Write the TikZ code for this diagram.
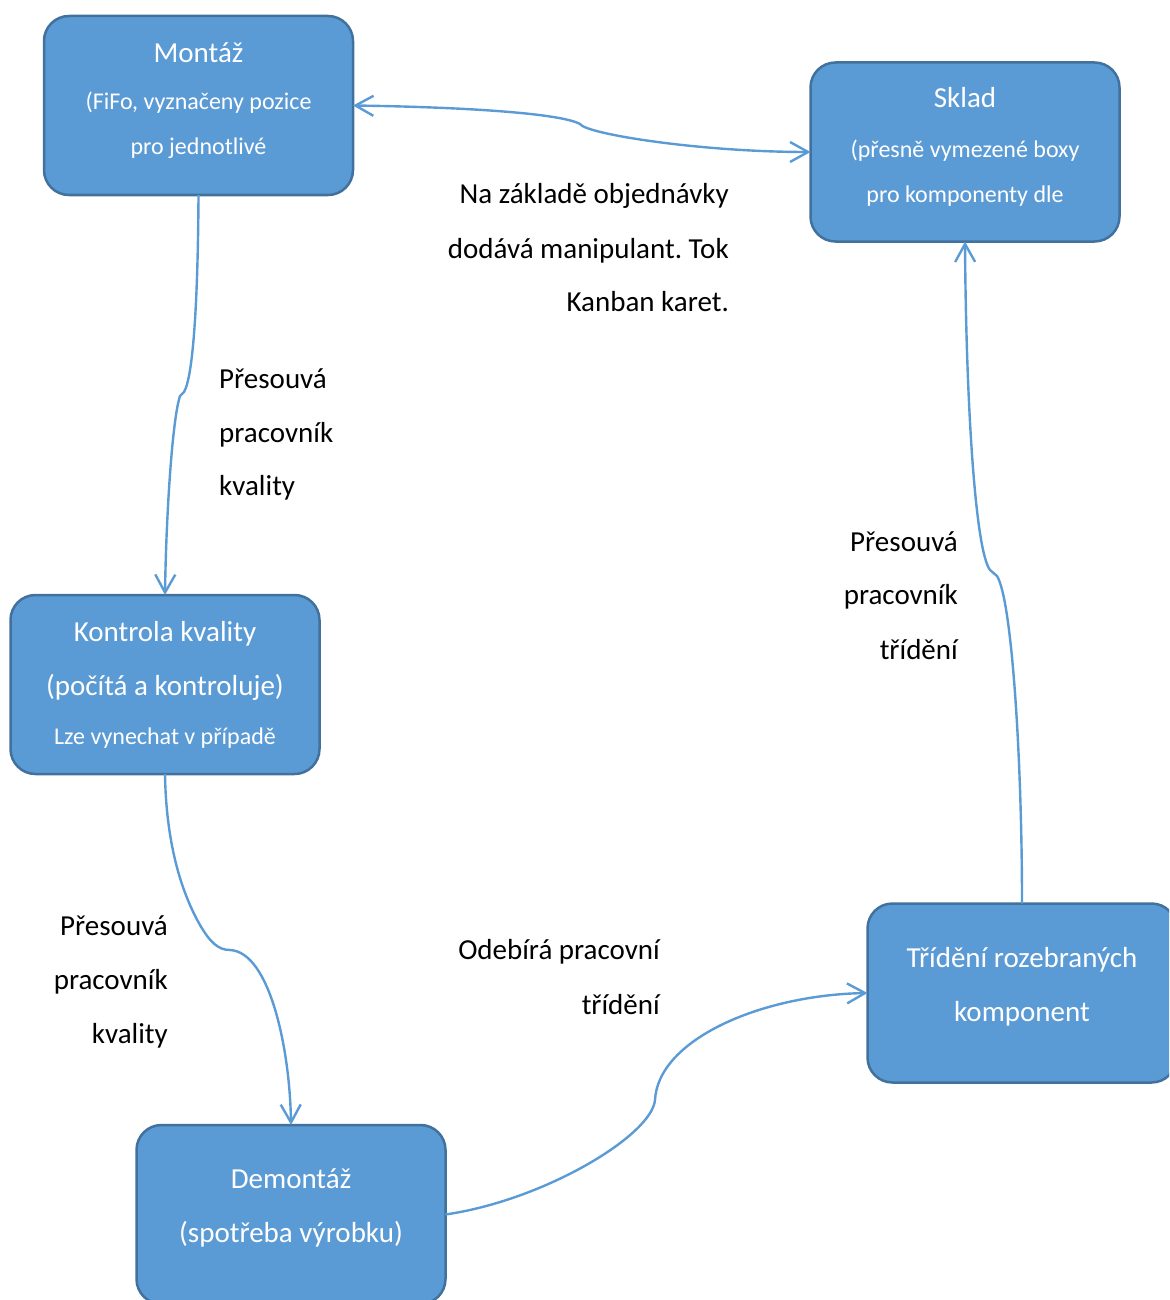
\documentclass[tikz,border=0pt]{standalone}
\usepackage{fontspec}
\setmainfont{Carlito}
\usetikzlibrary{arrows.meta}
\definecolor{boxfill}{HTML}{5B9BD5}
\definecolor{boxborder}{HTML}{41719C}
\definecolor{arrowblue}{HTML}{5B9BD5}
\frenchspacing
\tikzset{
  box/.style={draw=boxborder, fill=boxfill, line width=2.5pt, rounded corners=25pt,
    minimum width=309pt, minimum height=179pt, inner sep=0pt, outer sep=0pt},
  ttl/.style={text=white, font=\fontsize{29}{35}\selectfont, anchor=base, inner sep=0pt},
  sub/.style={text=white, font=\fontsize{24}{29}\selectfont, anchor=base, inner sep=0pt},
  lblr/.style={text=black, font=\fontsize{29}{35}\selectfont, anchor=base east, inner sep=0pt},
  lbll/.style={text=black, font=\fontsize{29}{35}\selectfont, anchor=base west, inner sep=0pt},
  barb/.tip={Straight Barb[length=18pt,width=20pt]},
  conn/.style={draw=arrowblue, line width=2.4pt, -barb},
}
\begin{document}
\begin{tikzpicture}[x=1pt,y=-1pt]
\useasboundingbox (0,0) rectangle (1169,1300);
\clip (0,0) rectangle (1169,1300);
% boxes
\node[box] (mont) at (198.5,105.5) {};
\node[box] (sklad) at (965,152) {};
\node[box] (kk) at (165,684.5) {};
\node[box] (tri) at (1022,993) {};
\node[box] (dem) at (291,1214.5) {};
% box texts
\node[ttl] (montA) at (198.5,63) {Montáž};
\node[sub] (montB) at (198.5,110) {(FiFo, vyznačeny pozice};
\node[sub] (montC) at (198.5,155) {pro jednotlivé};
\node[ttl] (skladA) at (965,108) {Sklad};
\node[sub] (skladB) at (965,158) {(přesně vymezené boxy};
\node[sub] (skladC) at (965,202) {pro komponenty dle};
\node[ttl] (kkA) at (165,641) {Kontrola kvality};
\node[ttl] (kkB) at (165,695) {(počítá a kontroluje)};
\node[sub] (kkC) at (165,744) {Lze vynechat v případě};
\node[ttl] (triA) at (1022,967) {Třídění rozebraných};
\node[ttl] (triB) at (1022,1021) {komponent};
\node[ttl] (demA) at (291,1188) {Demontáž};
\node[ttl] (demB) at (291,1242) {(spotřeba výrobku)};
% labels
\node[lblr] (l1a) at (729,204) {Na základě objednávky};
\node[lblr] (l1b) at (729,258) {dodává manipulant. Tok};
\node[lblr] (l1c) at (729,311) {Kanban karet.};
\node[lbll] (l2a) at (219,388) {Přesouvá};
\node[lbll] (l2b) at (219,442) {pracovník};
\node[lbll] (l2c) at (219,495) {kvality};
\node[lblr] (l3a) at (958,551) {Přesouvá};
\node[lblr] (l3b) at (958,604) {pracovník};
\node[lblr] (l3c) at (958,659) {třídění};
\node[lblr] (l4a) at (168,935) {Přesouvá};
\node[lblr] (l4b) at (168,989) {pracovník};
\node[lblr] (l4c) at (168,1043) {kvality};
\node[lblr] (l5a) at (660,959) {Odebírá pracovní};
\node[lblr] (l5b) at (660,1014) {třídění};
% connectors
\draw[conn, barb-barb] (mont.east) .. controls (460,107) and (560,113) .. (580,124)
  .. controls (586,134) and (700,152) .. (sklad.west);
\draw[conn] (mont.south) .. controls (198,290) and (194,375) .. (184,392)
  -- (180,396) .. controls (172,420) and (166,520) .. (kk.north);
\draw[conn] (kk.south) .. controls (166,840) and (180,890) .. (200,925)
  .. controls (210,942) and (218,950) .. (230,950)
  .. controls (270,952) and (290,1050) .. (dem.north);
\draw[conn] (dem.east) .. controls (545,1200) and (652,1135) .. (655,1100)
  .. controls (658,1040) and (760,995) .. (tri.west);
\draw[conn] (tri.north) .. controls (1022,760) and (1012,600) .. (997,576)
  -- (990,570) .. controls (975,550) and (966,400) .. (sklad.south);
\end{tikzpicture}
\end{document}
